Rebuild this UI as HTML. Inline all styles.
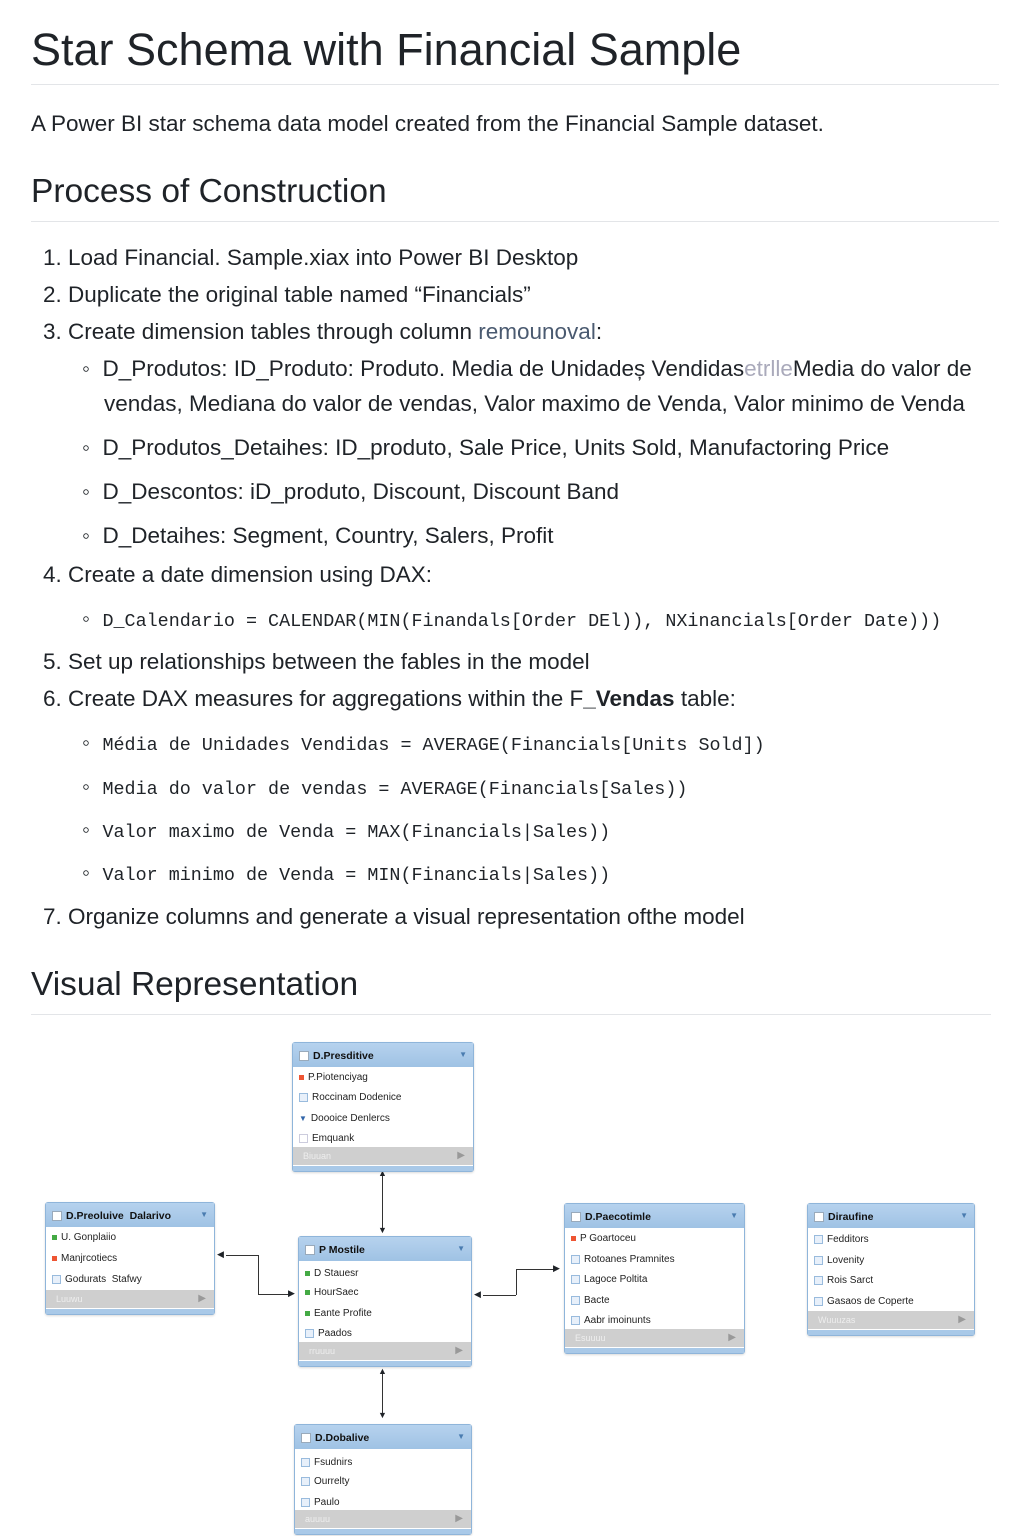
<!DOCTYPE html>
<html><head><meta charset="utf-8"><style>
body{margin:0;width:1024px;height:1536px;background:#fff;position:relative;font-family:"Liberation Sans",sans-serif;color:#1f2328;overflow:hidden}
.a{position:absolute;white-space:nowrap;line-height:1}
.h1{font-size:45px;font-weight:500}
.h2{font-size:33.5px;font-weight:500}
.t{font-size:22.5px}
.m{font-family:"Liberation Mono",monospace;font-size:18.4px}
.hr{position:absolute;left:31px;width:968px;height:1px;background:#e3e5e8}
.tb{position:absolute;border:1px solid #8fb5da;background:#fff;border-radius:3px;box-shadow:0 1px 2px rgba(0,0,0,.15)}
.th{position:absolute;left:0;right:0;top:0;height:24px;background:linear-gradient(#b6d2ee,#9fc2e4);font-size:10.5px;font-weight:bold;color:#111}
.th .cb{position:absolute;left:6px;top:8px;width:8px;height:8px;background:#fff;border:1px solid #9ab}
.th .n{position:absolute;left:20px;top:7px}
.th .dd{position:absolute;right:6px;top:7px;font-size:8px;color:#4a7cb0}
.r{position:absolute;left:6px;font-size:10px;color:#222}
.ic{display:inline-block;width:7px;height:7px;margin-right:4px;vertical-align:middle}
.ft{position:absolute;left:0;right:0;height:18px;background:#cfcfcf;font-size:9px;color:#eee}
.ft .p{position:absolute;right:8px;top:3px;color:#999;font-size:10px}
.ft .l{position:absolute;left:10px;top:4px}
.bs{position:absolute;left:0;right:0;bottom:0;height:5px;background:#a9c9e8}
.ln{position:absolute;background:#333}
</style></head><body>
<div class="a h1" style="left:31px;top:27px">Star Schema with Financial Sample</div>
<div class="hr" style="top:84px"></div>
<div class="a t" style="left:31px;top:113px">A Power BI star schema data model created from the Financial Sample dataset.</div>
<div class="a h2" style="left:31px;top:175px">Process of Construction</div>
<div class="hr" style="top:221px"></div>
<div class="a t" style="left:43px;top:247px">1. Load Financial. Sample.xiax into Power BI Desktop</div>
<div class="a t" style="left:43px;top:284px">2. Duplicate the original table named “Financials”</div>
<div class="a t" style="left:43px;top:321px">3. Create dimension tables through column <span style="color:#4a5a70">remounoval</span>:</div>
<div class="a t" style="left:82px;top:358px">◦&nbsp;&nbsp;D_Produtos: ID_Produto: Produto. Media de Unidadeș Vendidas<span style="color:#aab">etrlle</span>Media do valor de</div>
<div class="a t" style="left:104px;top:393px">vendas, Mediana do valor de vendas, Valor maximo de Venda, Valor minimo de Venda</div>
<div class="a t" style="left:82px;top:437px">◦&nbsp;&nbsp;D_Produtos_Detaihes: ID_produto, Sale Price, Units Sold, Manufactoring Price</div>
<div class="a t" style="left:82px;top:481px">◦&nbsp;&nbsp;D_Descontos: iD_produto, Discount, Discount Band</div>
<div class="a t" style="left:82px;top:525px">◦&nbsp;&nbsp;D_Detaihes: Segment, Country, Salers, Profit</div>
<div class="a t" style="left:43px;top:564px">4. Create a date dimension using DAX:</div>
<div class="a t" style="left:82px;top:608px">◦&nbsp;&nbsp;<span class="m">D_Calendario = CALENDAR(MIN(Finandals[Order DEl)), NXinancials[Order Date)))</span></div>
<div class="a t" style="left:43px;top:651px">5. Set up relationships between the fables in the model</div>
<div class="a t" style="left:43px;top:688px">6. Create DAX measures for aggregations within the F<b>_Vendas</b> table:</div>
<div class="a t" style="left:82px;top:732px">◦&nbsp;&nbsp;<span class="m">Média de Unidades Vendidas = AVERAGE(Financials[Units Sold])</span></div>
<div class="a t" style="left:82px;top:776px">◦&nbsp;&nbsp;<span class="m">Media do valor de vendas = AVERAGE(Financials[Sales))</span></div>
<div class="a t" style="left:82px;top:819px">◦&nbsp;&nbsp;<span class="m">Valor maximo de Venda = MAX(Financials|Sales))</span></div>
<div class="a t" style="left:82px;top:862px">◦&nbsp;&nbsp;<span class="m">Valor minimo de Venda = MIN(Financials|Sales))</span></div>
<div class="a t" style="left:43px;top:906px">7. Organize columns and generate a visual representation ofthe model</div>
<div class="a h2" style="left:31px;top:968px">Visual Representation</div>
<div class="hr" style="top:1014px;width:960px"></div>

<div class="ln" style="left:382px;top:1175px;width:1px;height:57px"></div>
<div class="a" style="left:378px;top:1169px;font-size:9px">▲</div>
<div class="a" style="left:378px;top:1226px;font-size:9px">▼</div>
<div class="ln" style="left:226px;top:1255px;width:32px;height:1px"></div>
<div class="ln" style="left:258px;top:1255px;width:1px;height:39px"></div>
<div class="ln" style="left:258px;top:1294px;width:32px;height:1px"></div>
<div class="a" style="left:217px;top:1250px;font-size:9px">◀</div>
<div class="a" style="left:288px;top:1289px;font-size:9px">▶</div>
<div class="ln" style="left:483px;top:1295px;width:33px;height:1px"></div>
<div class="ln" style="left:516px;top:1269px;width:1px;height:26px"></div>
<div class="ln" style="left:516px;top:1269px;width:38px;height:1px"></div>
<div class="a" style="left:474px;top:1290px;font-size:9px">◀</div>
<div class="a" style="left:553px;top:1264px;font-size:9px">▶</div>
<div class="ln" style="left:382px;top:1372px;width:1px;height:44px"></div>
<div class="a" style="left:378px;top:1367px;font-size:9px">▲</div>
<div class="a" style="left:378px;top:1411px;font-size:9px">▼</div>

<div class="tb" style="left:292px;top:1042px;width:180px;height:128px">
<div class="th"><span class="cb"></span><span class="n">D.Presditive</span><span class="dd">▼</span></div>
<div class="r" style="top:29px"><span class="ic" style="background:#e53;width:5px;height:5px"></span>P.Piotenciyag</div>
<div class="r" style="top:49px"><span class="ic" style="border:1px solid #9bd;background:#e8f0fa"></span>Roccinam Dodenice</div>
<div class="r" style="top:70px"><span style="color:#36a;font-size:8px;margin-right:4px">▼</span>Doooice Denlercs</div>
<div class="r" style="top:90px"><span class="ic" style="border:1px solid #ccd"></span>Emquank</div>
<div class="ft" style="top:104px"><span class="l">Biuuan</span><span class="p">▶</span></div>
<div class="bs"></div></div>
<div class="tb" style="left:45px;top:1202px;width:168px;height:111px">
<div class="th"><span class="cb"></span><span class="n">D.Preoluive&nbsp; Dalarivo</span><span class="dd">▼</span></div>
<div class="r" style="top:29px"><span class="ic" style="background:#4a4;width:5px;height:5px"></span>U. Gonplaiio</div>
<div class="r" style="top:50px"><span class="ic" style="background:#e53;width:5px;height:5px"></span>Manjrcotiecs</div>
<div class="r" style="top:71px"><span class="ic" style="border:1px solid #9bd;background:#e8f0fa"></span>Godurats&nbsp; Stafwy</div>
<div class="ft" style="top:87px"><span class="l">Luuwu</span><span class="p">▶</span></div>
<div class="bs"></div></div>
<div class="tb" style="left:298px;top:1236px;width:172px;height:129px">
<div class="th"><span class="cb"></span><span class="n">P Mostile</span><span class="dd">▼</span></div>
<div class="r" style="top:31px"><span class="ic" style="background:#4a4;width:5px;height:5px"></span>D Stauesr</div>
<div class="r" style="top:50px"><span class="ic" style="background:#4a4;width:5px;height:5px"></span>HourSaec</div>
<div class="r" style="top:71px"><span class="ic" style="background:#4a4;width:5px;height:5px"></span>Eante Profite</div>
<div class="r" style="top:91px"><span class="ic" style="border:1px solid #9bd;background:#e8f0fa"></span>Paados</div>
<div class="ft" style="top:105px"><span class="l">rruuuu</span><span class="p">▶</span></div>
<div class="bs"></div></div>
<div class="tb" style="left:564px;top:1203px;width:179px;height:149px">
<div class="th"><span class="cb"></span><span class="n">D.Paecotimle</span><span class="dd">▼</span></div>
<div class="r" style="top:29px"><span class="ic" style="background:#e53;width:5px;height:5px"></span>P Goartoceu</div>
<div class="r" style="top:50px"><span class="ic" style="border:1px solid #9bd;background:#e8f0fa"></span>Rotoanes Pramnites</div>
<div class="r" style="top:70px"><span class="ic" style="border:1px solid #9bd;background:#e8f0fa"></span>Lagoce Poltita</div>
<div class="r" style="top:91px"><span class="ic" style="border:1px solid #9bd;background:#e8f0fa"></span>Bacte</div>
<div class="r" style="top:111px"><span class="ic" style="border:1px solid #9bd;background:#e8f0fa"></span>Aabr imoinunts</div>
<div class="ft" style="top:125px"><span class="l">Esuuuu</span><span class="p">▶</span></div>
<div class="bs"></div></div>
<div class="tb" style="left:807px;top:1203px;width:166px;height:131px">
<div class="th"><span class="cb"></span><span class="n">Diraufine</span><span class="dd">▼</span></div>
<div class="r" style="top:30px"><span class="ic" style="border:1px solid #9bd;background:#e8f0fa"></span>Fedditors</div>
<div class="r" style="top:51px"><span class="ic" style="border:1px solid #9bd;background:#e8f0fa"></span>Lovenity</div>
<div class="r" style="top:71px"><span class="ic" style="border:1px solid #9bd;background:#e8f0fa"></span>Rois Sarct</div>
<div class="r" style="top:92px"><span class="ic" style="border:1px solid #9bd;background:#e8f0fa"></span>Gasaos de Coperte</div>
<div class="ft" style="top:107px"><span class="l">Wuuuzas</span><span class="p">▶</span></div>
<div class="bs"></div></div>
<div class="tb" style="left:294px;top:1424px;width:176px;height:109px">
<div class="th"><span class="cb"></span><span class="n">D.Dobalive</span><span class="dd">▼</span></div>
<div class="r" style="top:32px"><span class="ic" style="border:1px solid #9bd;background:#e8f0fa"></span>Fsudnirs</div>
<div class="r" style="top:51px"><span class="ic" style="border:1px solid #9bd;background:#e8f0fa"></span>Ourrelty</div>
<div class="r" style="top:72px"><span class="ic" style="border:1px solid #9bd;background:#e8f0fa"></span>Paulo</div>
<div class="ft" style="top:85px"><span class="l">auuuu</span><span class="p">▶</span></div>
<div class="bs"></div></div>
</body></html>
